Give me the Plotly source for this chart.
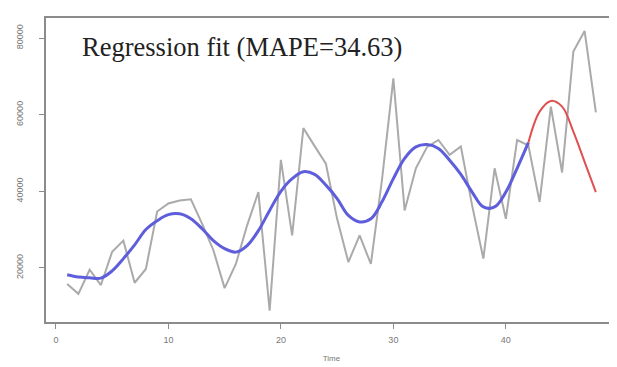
import plotly.graph_objects as go

time = list(range(1, 49))
observed = [15800, 13200, 19500, 15500, 24200, 27100, 16100, 19700, 34700, 36800,
            37600, 37900, 31500, 24600, 14700, 21000, 31100, 39800, 8800, 48200,
            28500, 56500, 51800, 47200, 32800, 21500, 28500, 21000, 43300, 69500,
            35000, 46000, 51600, 53400, 49500, 51700, 36300, 22400, 46000, 32800,
            53400, 52000, 37200, 62100, 44900, 76500, 81900, 60600]

fit_time = list(range(1, 43))
fitted = [18200, 17600, 17400, 17300, 19200, 22400, 26000, 30000, 32300, 33900,
          34100, 32800, 30200, 27100, 25000, 24100, 25800, 29700, 35000, 40000,
          43300, 45100, 44400, 41600, 38100, 33700, 32000, 32800, 37300, 43300,
          48600, 51600, 52200, 51200, 48100, 44400, 39800, 35900, 35900, 39800,
          46000, 52700]

fc_time = list(range(42, 49))
forecast = [52700, 60800, 63600, 62100, 55600, 47700, 39800]

x_ticks = [0, 10, 20, 30, 40]
y_ticks = [20000, 40000, 60000, 80000]
y_tick_labels = ["20000", "40000", "60000", "80000"]

fig = go.Figure()
fig.add_trace(go.Scatter(x=time, y=observed, mode="lines",
                         line=dict(color="#aaaaaa", width=2)))
fig.add_trace(go.Scatter(x=fit_time, y=fitted, mode="lines", line_shape="spline",
                         line=dict(color="#5e5edc", width=3)))
fig.add_trace(go.Scatter(x=fc_time, y=forecast, mode="lines", line_shape="spline",
                         line=dict(color="#e05050", width=2)))

fig.add_annotation(x=0.06, y=0.905, xref="paper", yref="paper",
                   text="Regression fit (MAPE=34.63)", showarrow=False,
                   xanchor="left", yanchor="middle",
                   font=dict(family="Liberation Serif", size=26.5, color="#222222"))

axis_common = dict(showgrid=False, zeroline=False, showline=True, mirror=True,
                   linecolor="#8c8c8c", linewidth=1.5, ticks="outside",
                   ticklen=5, tickcolor="#8c8c8c", tickwidth=1,
                   tickfont=dict(family="Liberation Sans", size=9, color="#777777"))

fig.update_layout(
    width=617, height=367,
    margin=dict(l=38, r=6, t=10, b=53),
    paper_bgcolor="white", plot_bgcolor="white",
    showlegend=False,
    xaxis=dict(range=[-0.88, 49.88], tickvals=x_ticks,
               title=dict(text="Time", font=dict(family="Liberation Sans", size=8, color="#777777"), standoff=12),
               ticklabelstandoff=3, **axis_common),
    yaxis=dict(range=[5845, 85270], tickvals=y_ticks, ticktext=y_tick_labels,
               tickangle=-90, ticklabelstandoff=13, **axis_common),
)

fig.write_html("out.html")
